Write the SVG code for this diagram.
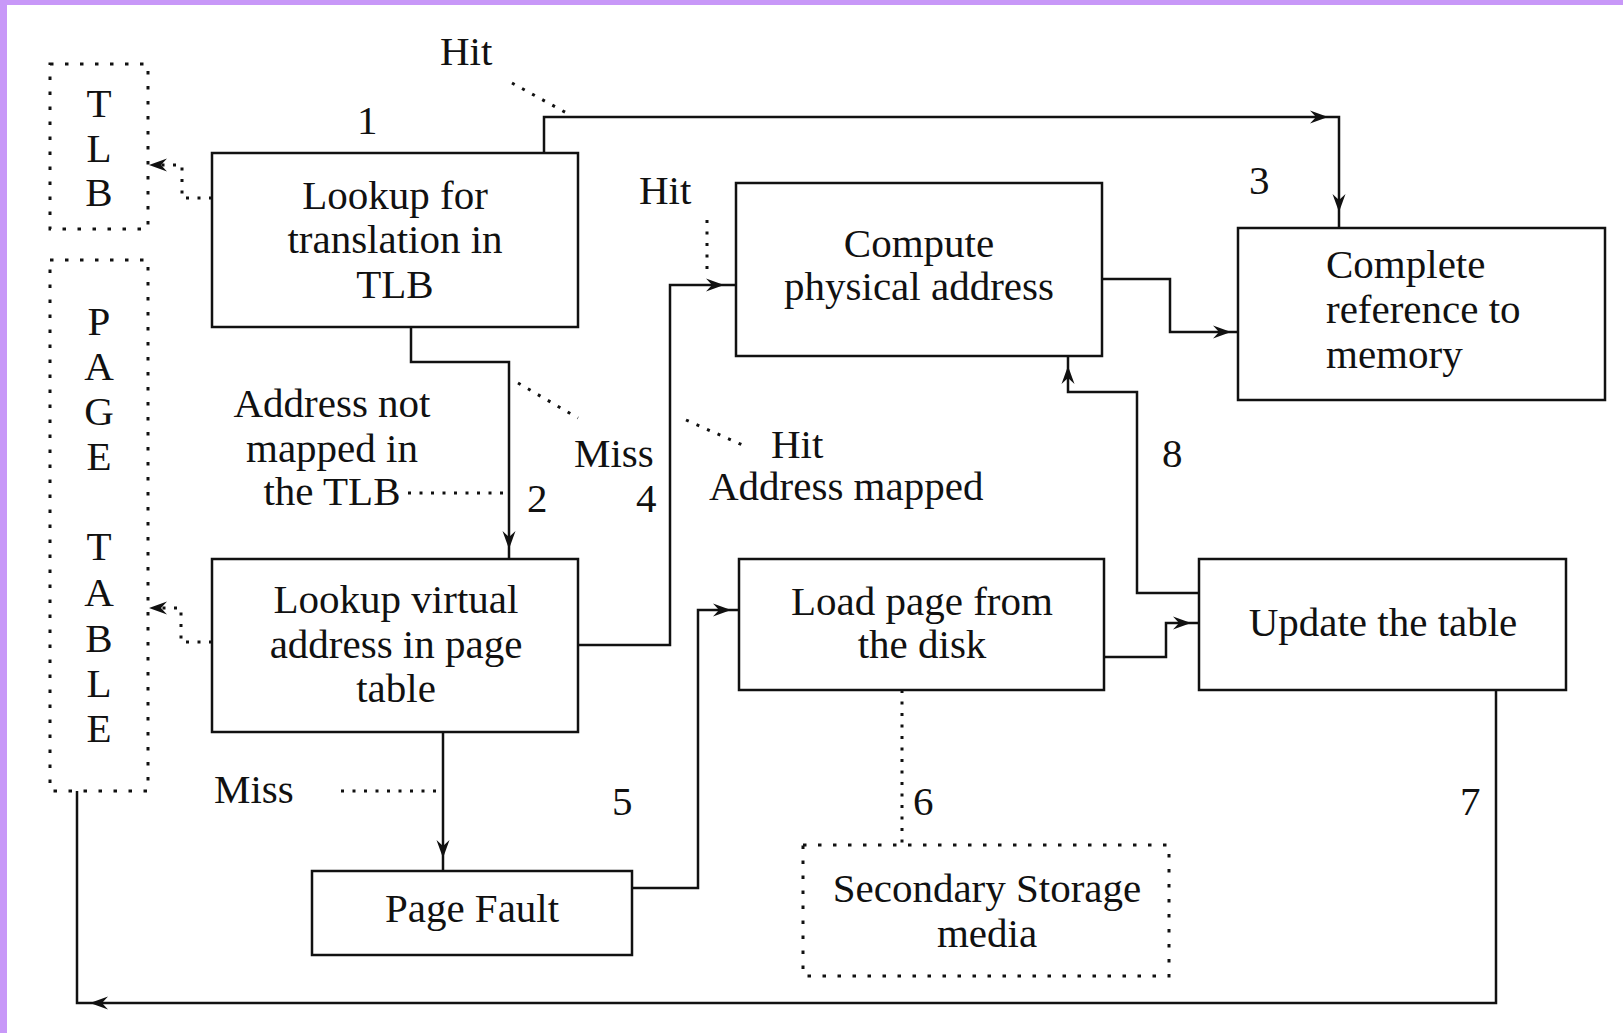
<svg xmlns="http://www.w3.org/2000/svg" xmlns:xlink="http://www.w3.org/1999/xlink" width="1623" height="1033" viewBox="0 0 1623 1033">
<defs>
<style>
text { font-family: "Liberation Serif", "Times New Roman", serif; font-size: 41px; fill: #111; }
.c { text-anchor: middle; }
.box { fill: #fff; stroke: #111; stroke-width: 2.5; }
.dotbox { fill: #fff; stroke: #111; stroke-width: 3; stroke-dasharray: 3.5 11.5; }
.line { fill: none; stroke: #111; stroke-width: 2.5; }
.dot { fill: none; stroke: #111; stroke-width: 3; stroke-dasharray: 3 8.5; }
.ah { fill: #111; }
</style>
<path id="ah" class="ah" d="M0,0 L-18,-6.5 L-12,0 L-18,6.5 Z"/>
</defs>
<rect x="0" y="0" width="1623" height="1033" fill="#fff"/>
<rect x="0" y="0" width="1623" height="5" fill="#c898f8"/>
<rect x="0" y="0" width="7" height="1033" fill="#c898f8"/>

<g id="connectors">
<path class="line" d="M544,153 V117 H1339 V227"/>
<path class="line" d="M411,327 V362 H509 V558"/>
<path class="line" d="M578,645 H670 V285 H735"/>
<path class="line" d="M1101,279 H1170 V332 H1238"/>
<path class="line" d="M443,732 V870"/>
<path class="line" d="M631,888 H698 V610 H738"/>
<path class="line" d="M1104,657 H1166 V623 H1199"/>
<path class="line" d="M1199,593 H1137 V392 H1068 V356"/>
<path class="line" d="M1496,689 V1003 H77 V791"/>
<use xlink:href="#ah" transform="translate(1328,117)"/>
<use xlink:href="#ah" transform="translate(1339,212) rotate(90)"/>
<use xlink:href="#ah" transform="translate(509,549) rotate(90)"/>
<use xlink:href="#ah" transform="translate(724,285)"/>
<use xlink:href="#ah" transform="translate(1231,332)"/>
<use xlink:href="#ah" transform="translate(443,858) rotate(90)"/>
<use xlink:href="#ah" transform="translate(731,610)"/>
<use xlink:href="#ah" transform="translate(1191,623)"/>
<use xlink:href="#ah" transform="translate(1068,366) rotate(-90)"/>
<use xlink:href="#ah" transform="translate(90,1003) rotate(180)"/>
<path class="dot" d="M212,198 H182 V165 H160"/>
<use xlink:href="#ah" transform="translate(149,165) rotate(180)"/>
<path class="dot" d="M212,642 H181 V608 H160"/>
<use xlink:href="#ah" transform="translate(149,608) rotate(180)"/>
<path class="dot" d="M512,83 L572,116"/>
<path class="dot" d="M707,220 V277"/>
<path class="dot" d="M518,383 L578,418"/>
<path class="dot" d="M686,420 L747,447"/>
<path class="dot" d="M408,493 H509"/>
<path class="dot" d="M341,791 H443"/>
<path class="dot" d="M902,690 V845"/>
</g>

<g id="tlb">
<rect class="dotbox" x="50" y="64" width="98" height="165"/>
<text class="c" x="99" y="117">T</text>
<text class="c" x="99" y="162">L</text>
<text class="c" x="99" y="206">B</text>
</g>

<g id="page-table">
<rect class="dotbox" x="50" y="260" width="98" height="531"/>
<text class="c" x="99" y="335">P</text>
<text class="c" x="99" y="380">A</text>
<text class="c" x="99" y="425">G</text>
<text class="c" x="99" y="470">E</text>
<text class="c" x="99" y="560">T</text>
<text class="c" x="99" y="606">A</text>
<text class="c" x="99" y="652">B</text>
<text class="c" x="99" y="697">L</text>
<text class="c" x="99" y="742">E</text>
</g>

<g id="lookup-tlb">
<rect class="box" x="212" y="153" width="366" height="174"/>
<text class="c" x="395" y="209">Lookup for</text>
<text class="c" x="395" y="253">translation in</text>
<text class="c" x="395" y="298">TLB</text>
</g>

<g id="compute">
<rect class="box" x="736" y="183" width="366" height="173"/>
<text class="c" x="919" y="257">Compute</text>
<text class="c" x="919" y="300">physical address</text>
</g>

<g id="complete">
<rect class="box" x="1238" y="228" width="367" height="172"/>
<text x="1326" y="278">Complete</text>
<text x="1326" y="323">reference to</text>
<text x="1326" y="368">memory</text>
</g>

<g id="lookup-virtual">
<rect class="box" x="212" y="559" width="366" height="173"/>
<text class="c" x="396" y="613">Lookup virtual</text>
<text class="c" x="396" y="658">address in page</text>
<text class="c" x="396" y="702">table</text>
</g>

<g id="load-page">
<rect class="box" x="739" y="559" width="365" height="131"/>
<text class="c" x="922" y="615">Load page from</text>
<text class="c" x="922" y="658">the disk</text>
</g>

<g id="update-table">
<rect class="box" x="1199" y="559" width="367" height="131"/>
<text class="c" x="1383" y="636">Update the table</text>
</g>

<g id="page-fault">
<rect class="box" x="312" y="871" width="320" height="84"/>
<text class="c" x="472" y="922">Page Fault</text>
</g>

<g id="secondary-storage">
<rect class="dotbox" x="803" y="845" width="366" height="131"/>
<text class="c" x="987" y="902">Secondary Storage</text>
<text class="c" x="987" y="947">media</text>
</g>

<g id="labels">
<text x="440" y="65">Hit</text>
<text x="357" y="134">1</text>
<text x="639" y="204">Hit</text>
<text x="1249" y="194">3</text>
<text class="c" x="332" y="417">Address not</text>
<text class="c" x="332" y="462">mapped in</text>
<text class="c" x="332" y="505">the TLB</text>
<text x="574" y="467">Miss</text>
<text x="527" y="512">2</text>
<text x="636" y="512">4</text>
<text x="771" y="458">Hit</text>
<text x="709" y="500">Address mapped</text>
<text x="1162" y="467">8</text>
<text x="214" y="803">Miss</text>
<text x="612" y="815">5</text>
<text x="913" y="815">6</text>
<text x="1460" y="815">7</text>
</g>
</svg>
